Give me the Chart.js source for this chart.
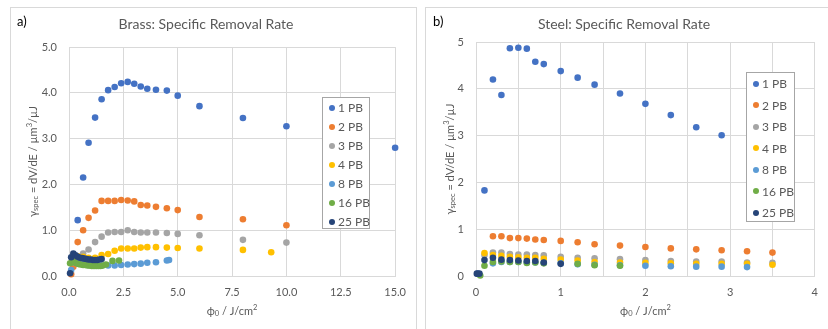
<!DOCTYPE html>
<html lang="en">
<head>
<meta charset="UTF-8" />
<title>Specific Removal Rate</title>
<script src="https://cdn.jsdelivr.net/npm/chart.js"></script>
<style>
  body { margin: 0; width: 828px; height: 329px; overflow: hidden; background: #fff; font-family: Lato, "Noto Sans", sans-serif; }
  .panel { position: absolute; top: 7px; height: 340px; border: 1px solid #d9d9d9; background: #fff; }
  .panel canvas { position: absolute; left: 0; top: 0; }
  .tag { position: absolute; top: 13px; font-size: 13px; color: #000; }
  .legend { position: absolute; border: 1px solid #a6a6a6; background: #fff; box-sizing: border-box; }
  .legend div { position: relative; font-size: 12px; color: #595959; white-space: nowrap; }
  .legend span.dot { position: absolute; width: 6px; height: 6px; border-radius: 50%; }
</style>
</head>
<body>
  <div class="panel" style="left:10px; width:405px;"><canvas id="brassChart" width="405" height="321"></canvas></div>
  <div class="panel" style="left:425px; width:420px;"><canvas id="steelChart" width="402" height="321"></canvas></div>
  <div class="tag" style="left:17px;">a)</div>
  <div class="tag" style="left:433px;">b)</div>
  <div class="legend" id="brassLegend" style="left:322px; top:97px; width:48px; height:132px;"></div>
  <div class="legend" id="steelLegend" style="left:746px; top:72px; width:49px; height:150px;"></div>

<script>
  const seriesLabels = ['1 PB', '2 PB', '3 PB', '4 PB', '8 PB', '16 PB', '25 PB'];

  // brass, [fluence J/cm², specific removal rate µm³/µJ]
  const brass1PB = [[0.4,1.22],[0.65,2.15],[0.9,2.91],[1.2,3.46],[1.5,3.86],[1.8,4.06],[2.1,4.13],[2.4,4.21],[2.7,4.24],[3.0,4.2],[3.3,4.14],[3.6,4.09],[4.0,4.07],[4.5,4.05],[5.0,3.94],[6.0,3.71],[8.0,3.45],[10.0,3.27],[15.0,2.8]];
  const brass2PB = [[0.1,0.04],[0.2,0.2],[0.4,0.74],[0.65,1.0],[0.9,1.27],[1.2,1.43],[1.5,1.64],[1.8,1.64],[2.1,1.64],[2.4,1.66],[2.7,1.65],[3.0,1.63],[3.3,1.55],[3.6,1.54],[4.0,1.51],[4.5,1.48],[5.0,1.44],[6.0,1.29],[8.0,1.24],[10.0,1.11]];
  const brass3PB = [[0.2,0.35],[0.4,0.42],[0.65,0.49],[0.9,0.58],[1.2,0.74],[1.5,0.86],[1.8,0.95],[2.1,0.96],[2.4,0.96],[2.7,1.0],[3.0,0.96],[3.3,0.95],[3.6,0.95],[4.0,0.95],[4.5,0.94],[5.0,0.92],[6.0,0.89],[8.0,0.79],[10.0,0.73]];
  const brass4PB = [[0.2,0.42],[0.4,0.43],[0.65,0.42],[0.9,0.4],[1.2,0.4],[1.5,0.46],[1.8,0.48],[2.1,0.55],[2.4,0.6],[2.7,0.6],[3.0,0.6],[3.3,0.62],[3.6,0.63],[4.0,0.63],[4.5,0.62],[5.0,0.61],[6.0,0.6],[8.0,0.57],[9.3,0.52]];
  const brass8PB = [[0.1,0.13],[0.2,0.3],[0.4,0.27],[0.65,0.25],[0.9,0.24],[1.2,0.23],[1.5,0.23],[1.8,0.23],[2.1,0.23],[2.4,0.24],[2.7,0.25],[3.0,0.26],[3.3,0.27],[3.6,0.29],[4.0,0.3],[4.5,0.34],[4.6,0.35]];
  const brass16PB = [[0.05,0.28],[0.15,0.32],[0.25,0.3],[0.35,0.28],[0.45,0.26],[0.55,0.25],[0.65,0.24],[0.75,0.24],[0.85,0.23],[0.95,0.23],[1.05,0.22],[1.15,0.22],[1.25,0.22],[1.35,0.22],[1.45,0.22],[1.55,0.23],[1.7,0.25],[2.0,0.33],[2.3,0.34]];
  const brass25PB = [[0.05,0.06],[0.1,0.41],[0.2,0.49],[0.3,0.45],[0.4,0.42],[0.5,0.4],[0.6,0.39],[0.7,0.38],[0.8,0.37],[0.9,0.36],[1.0,0.36],[1.1,0.35],[1.2,0.35],[1.3,0.35],[1.4,0.36],[1.5,0.37]];

  // steel
  const steel1PB = [[0.02,0.05],[0.1,1.83],[0.2,4.2],[0.3,3.87],[0.4,4.87],[0.5,4.88],[0.6,4.86],[0.7,4.58],[0.8,4.53],[1.0,4.38],[1.2,4.24],[1.4,4.09],[1.7,3.9],[2.0,3.68],[2.3,3.44],[2.6,3.18],[2.9,3.01]];
  const steel2PB = [[0.2,0.85],[0.3,0.85],[0.4,0.81],[0.5,0.81],[0.6,0.8],[0.7,0.78],[0.8,0.77],[1.0,0.75],[1.2,0.72],[1.4,0.68],[1.7,0.65],[2.0,0.62],[2.3,0.59],[2.6,0.57],[2.9,0.55],[3.2,0.53],[3.5,0.5]];
  const steel3PB = [[0.1,0.45],[0.2,0.5],[0.3,0.5],[0.4,0.47],[0.5,0.46],[0.6,0.46],[0.7,0.45],[0.8,0.44],[1.0,0.41],[1.2,0.39],[1.4,0.38],[1.7,0.36],[2.0,0.34],[2.3,0.32],[2.6,0.31],[2.9,0.31],[3.2,0.29],[3.5,0.28]];
  const steel4PB = [[0.1,0.49],[0.2,0.45],[0.3,0.43],[0.4,0.41],[0.5,0.4],[0.6,0.39],[0.7,0.39],[0.8,0.37],[1.0,0.35],[1.2,0.33],[1.4,0.3],[1.7,0.29],[2.0,0.28],[2.3,0.27],[2.6,0.26],[2.9,0.26],[3.2,0.26],[3.5,0.24]];
  const steel8PB = [[0.2,0.27],[0.3,0.3],[0.4,0.3],[0.5,0.3],[0.6,0.29],[0.7,0.29],[0.8,0.28],[1.0,0.27],[1.2,0.25],[1.4,0.24],[1.7,0.23],[2.0,0.22],[2.3,0.21],[2.6,0.2],[2.9,0.2],[3.2,0.19]];
  const steel16PB = [[0.05,0.01],[0.1,0.22],[0.2,0.3],[0.3,0.31],[0.4,0.3],[0.5,0.3],[0.6,0.28],[0.7,0.29],[0.8,0.27],[1.2,0.26],[1.4,0.23],[1.7,0.22]];
  const steel25PB = [[0.01,0.05],[0.04,0.05],[0.1,0.34],[0.2,0.39],[0.3,0.35],[0.4,0.34],[0.5,0.33],[0.6,0.32],[0.7,0.32],[0.8,0.29],[1.0,0.26]];

  const colors = ['#4472C4', '#ED7D31', '#A5A5A5', '#FFC000', '#5B9BD5', '#70AD47', '#264478'];
  const FONT = 'Lato, "Noto Sans", sans-serif';
  const GREY = '#595959';

  function makeDatasets(seriesList) {
    return seriesList.map((pts, i) => ({
      label: seriesLabels[i],
      data: pts.map(p => ({ x: p[0], y: p[1] })),
      backgroundColor: colors[i],
      borderWidth: 0,
      pointRadius: 3.3,
      showLine: false,
      clip: false,
      order: seriesList.length - i   // later series on top, like Excel
    }));
  }

  // text with sub/superscripts, drawn on the canvas
  function drawRich(ctx, parts, cx, cy, rot) {
    const big = '11px ' + FONT, small = '7.5px ' + FONT;
    let total = 0;
    parts.forEach(p => { ctx.font = p.s ? small : big; p.w = ctx.measureText(p.t).width; total += p.w; });
    ctx.save();
    ctx.translate(cx, cy);
    ctx.rotate(rot);
    ctx.fillStyle = GREY;
    ctx.textBaseline = 'middle';
    ctx.textAlign = 'left';
    let x = -total / 2;
    parts.forEach(p => {
      ctx.font = p.s ? small : big;
      const dy = p.s === 'sub' ? 3 : p.s === 'sup' ? -3.5 : 0;
      ctx.fillText(p.t, x, dy);
      x += p.w;
    });
    ctx.restore();
  }

  const yTitle = [{ t: 'γ' }, { t: 'spec', s: 'sub' }, { t: ' = dV/dE / µm' }, { t: '3', s: 'sup' }, { t: '/µJ' }];
  const xTitle = [{ t: 'ϕ' }, { t: '0', s: 'sub' }, { t: ' / J/cm' }, { t: '2', s: 'sup' }];

  const axisTitles = {
    id: 'axisTitles',
    afterDraw(chart, args, opts) {
      const a = chart.chartArea;
      drawRich(chart.ctx, xTitle, (a.left + a.right) / 2, a.bottom + 35, 0);
      drawRich(chart.ctx, yTitle, a.left - opts.yOffset, (a.top + a.bottom) / 2, -Math.PI / 2);
    }
  };

  function makeChart(id, title, seriesList, cfg) {
    return new Chart(document.getElementById(id), {
      type: 'scatter',
      data: { datasets: makeDatasets(seriesList) },
      plugins: [axisTitles],
      options: {
        responsive: false,
        animation: false,
        devicePixelRatio: 1,
        layout: { padding: { top: 0, right: cfg.padRight, bottom: 0, left: 0 } },
        plugins: {
          legend: { display: false },
          tooltip: { enabled: false },
          title: {
            display: true, text: title, color: GREY,
            font: { family: FONT, size: 14, weight: 'normal' },
            padding: { top: 8, bottom: cfg.titleBottom }
          },
          axisTitles: { yOffset: cfg.yTitleOffset }
        },
        scales: {
          x: {
            type: 'linear', min: 0, max: cfg.xMax,
            ticks: { stepSize: cfg.xStep, callback: cfg.xLabel, color: GREY, font: { family: FONT, size: 11 }, padding: 10, maxRotation: 0, autoSkip: false },
            grid: { color: '#d9d9d9', drawTicks: false },
            border: { color: '#d9d9d9' },
            afterFit(s) { s.height = 53; }
          },
          y: {
            min: 0, max: 5,
            ticks: { stepSize: 1, callback: cfg.yLabel, color: GREY, font: { family: FONT, size: 11 }, padding: 12 },
            grid: { color: '#d9d9d9', drawTicks: false },
            border: { color: '#d9d9d9' },
            afterFit(s) { s.width = cfg.yWidth; }
          }
        }
      }
    });
  }

  makeChart('brassChart', 'Brass: Specific Removal Rate',
    [brass1PB, brass2PB, brass3PB, brass4PB, brass8PB, brass16PB, brass25PB],
    { xMax: 15, xStep: 2.5, xLabel: v => v.toFixed(1), yLabel: v => v.toFixed(1),
      padRight: 15, titleBottom: 14.3, yWidth: 58, yTitleOffset: 36 });

  makeChart('steelChart', 'Steel: Specific Removal Rate',
    [steel1PB, steel2PB, steel3PB, steel4PB, steel8PB, steel16PB, steel25PB],
    { xMax: 4, xStep: 0.5, xLabel: v => Number.isInteger(v) ? String(v) : '', yLabel: v => String(v),
      padRight: 6, titleBottom: 9.3, yWidth: 50, yTitleOffset: 26 });

  function buildLegend(id, rowH, top) {
    const box = document.getElementById(id);
    seriesLabels.forEach((lab, i) => {
      const row = document.createElement('div');
      row.style.height = rowH + 'px';
      row.style.lineHeight = rowH + 'px';
      row.style.paddingLeft = '15px';
      row.innerHTML = '<span class="dot" style="left:6px; top:' + (rowH / 2 - 3) + 'px; background:' + colors[i] + '"></span>' + lab;
      box.appendChild(row);
    });
    box.style.paddingTop = top + 'px';
  }
  buildLegend('brassLegend', 19, 0);
  buildLegend('steelLegend', 21.5, 0);
</script>
</body>
</html>
